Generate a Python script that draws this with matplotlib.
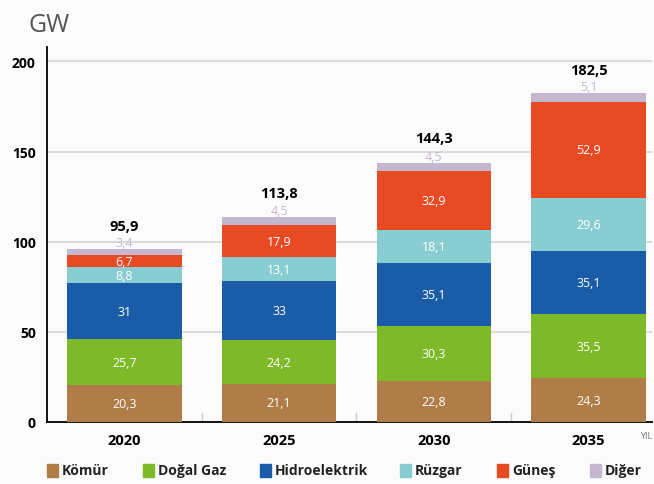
import matplotlib
matplotlib.use("Agg")
import matplotlib.pyplot as plt
import numpy as np

plt.rcParams['font.family'] = ['Open Sans', 'DejaVu Sans']

years = ["2020", "2025", "2030", "2035"]
series_names = ["Kömür", "Doğal Gaz", "Hidroelektrik", "Rüzgar", "Güneş", "Diğer"]
komur = [20.3, 21.1, 22.8, 24.3]
dogalgaz = [25.7, 24.2, 30.3, 35.5]
hidro = [31, 33, 35.1, 35.1]
ruzgar = [8.8, 13.1, 18.1, 29.6]
gunes = [6.7, 17.9, 32.9, 52.9]
diger = [3.4, 4.5, 4.5, 5.1]
totals = [95.9, 113.8, 144.3, 182.5]

colors = ["#B07D48", "#7DB928", "#1A5CA8", "#88CDD2", "#E84A24", "#C4B8D0"]

def fmt(v):
    s = ("%g" % v).replace(".", ",")
    return s

fig = plt.figure(figsize=(6.54, 4.85), dpi=100)
fig.patch.set_facecolor("#FBFBFB")
ax = fig.add_axes([47/654, 1-423/485, (652-47)/654, 375/485])
ax.set_facecolor("none")

x = np.arange(len(years))
width = 0.74
bottom = np.zeros(len(years))
all_series = [komur, dogalgaz, hidro, ruzgar, gunes, diger]
for i, (name, vals, col) in enumerate(zip(series_names, all_series, colors)):
    vals = np.array(vals, dtype=float)
    ax.bar(x, vals, width, bottom=bottom, color=col, label=name, zorder=3)
    for j, v in enumerate(vals):
        if name == "Diğer":
            ax.text(x[j], bottom[j] + v + 3.5, fmt(v), ha="center", va="center",
                    color="#C4B8D0", fontsize=9, zorder=4)
        else:
            ax.text(x[j], bottom[j] + v / 2, fmt(v), ha="center", va="center",
                    color="white", fontsize=9, zorder=4)
    bottom += vals

for j, t in enumerate(totals):
    ax.text(x[j], t + 13, fmt(t), ha="center", va="center", fontsize=10.5,
            fontweight="bold", color="black", zorder=4)

ax.set_xlim(-0.5, 3.41)
ax.set_ylim(0, 208)
ax.set_yticks([0, 50, 100, 150, 200])
ax.yaxis.grid(True, color="#D5D5D5", linewidth=1.2, zorder=0)
ax.set_axisbelow(True)
for s in ["top", "right"]:
    ax.spines[s].set_visible(False)
ax.spines["left"].set_linewidth(1.3)
ax.spines["bottom"].set_linewidth(1.3)
ax.tick_params(axis="y", length=0, pad=8, labelsize=10)
for lab in ax.get_yticklabels():
    lab.set_fontweight("bold")

ax.set_xticks(x)
ax.set_xticklabels(years, fontsize=10.5, fontweight="bold")
ax.tick_params(axis="x", length=0, pad=8)
# small boundary ticks
for b in [0.5, 1.5, 2.5, 3.45]:
    ax.plot([b, b], [0, 5], color="#CCCCCC", linewidth=1, zorder=2, clip_on=False)

fig.text(28/654, 1-25/485, "GW", fontsize=18, color="#555555", va="center", ha="left")
fig.text(640/654, 1-437/485, "YIL", fontsize=6.5, color="#777777", va="center", ha="left")

# legend
leg_x = [47, 143, 260, 400, 497, 590]
for name, col, lx in zip(series_names, colors, leg_x):
    fig.patches.append(plt.Rectangle((lx/654, 1-478/485), 11/654, 13/485,
                                     transform=fig.transFigure, color=col, figure=fig))
    fig.text((lx+15)/654, 1-471/485, name, fontsize=10, fontweight="bold",
             color="#222222", va="center", ha="left")

fig.savefig("out.png", dpi=100, facecolor=fig.get_facecolor())
